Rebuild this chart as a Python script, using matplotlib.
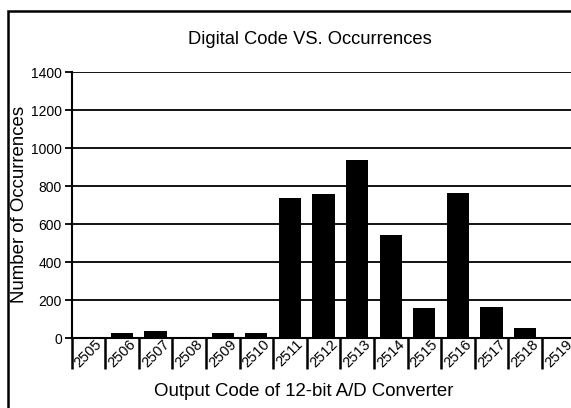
import matplotlib.pyplot as plt
import numpy as np
from matplotlib.patches import Rectangle
from matplotlib.ticker import FixedLocator

# Histogram data
codes = ["2505", "2506", "2507", "2508", "2509", "2510", "2511", "2512",
         "2513", "2514", "2515", "2516", "2517", "2518", "2519"]
occurrences = [0, 28, 37, 0, 28, 28, 738, 758, 936, 540, 159, 764, 165, 55, 0]
y_ticks = [0, 200, 400, 600, 800, 1000, 1200, 1400]

plt.rcParams['font.family'] = ['Liberation Sans', 'DejaVu Sans']

W, H = 571, 408
fig = plt.figure(figsize=(W / 100, H / 100), dpi=100)
# axes runs a little past the right edge of the picture, like the reference
ax = fig.add_axes([71.5 / W, (H - 338) / H, 504 / W, 266 / H])

x = np.arange(len(codes))
ax.bar(x, occurrences, width=0.66, color='black', zorder=3)

# Axis limits and gridlines
ax.set_xlim(-0.5, len(codes) - 0.5)
ax.set_ylim(0, 1400)
ax.set_yticks(y_ticks)
ax.set_yticklabels([str(v) for v in y_ticks], fontsize=10)
ax.grid(axis='y', color='black', linewidth=1.3, zorder=1)
ax.tick_params(axis='y', length=5, width=1.3, pad=2)

# Category labels between long separator ticks
ax.set_xticks(x)
ax.set_xticklabels(codes, rotation=45, ha='center', va='center', fontsize=10.5)
ax.tick_params(axis='x', which='major', length=0, pad=11)
ax.xaxis.set_minor_locator(FixedLocator(np.arange(-0.5, len(codes), 1.0)))
ax.tick_params(axis='x', which='minor', length=22, width=1.8, direction='out')

for side in ['top', 'right']:
    ax.spines[side].set_visible(False)
ax.spines['left'].set_linewidth(1.5)
ax.spines['bottom'].set_linewidth(1.5)
ax.spines['bottom'].set_zorder(4)

# Titles
fig.text(310 / W, 1 - 40 / H, 'Digital Code VS. Occurrences',
         ha='center', va='center', fontsize=13.2)
fig.text(304 / W, 1 - 391 / H, 'Output Code of 12-bit A/D Converter',
         ha='center', va='center', fontsize=13.4)
fig.text(19.5 / W, 1 - 204 / H, 'Number of Occurrences',
         ha='center', va='center', rotation=90, fontsize=13.4)

# Outer frame around the chart (runs off the right and bottom edges)
fig.patches.append(Rectangle((8 / W, -0.05), 1.1, (H - 11) / H + 0.05,
                             transform=fig.transFigure, fill=False,
                             edgecolor='black', linewidth=1.8))

fig.savefig('out.png', dpi=100)
